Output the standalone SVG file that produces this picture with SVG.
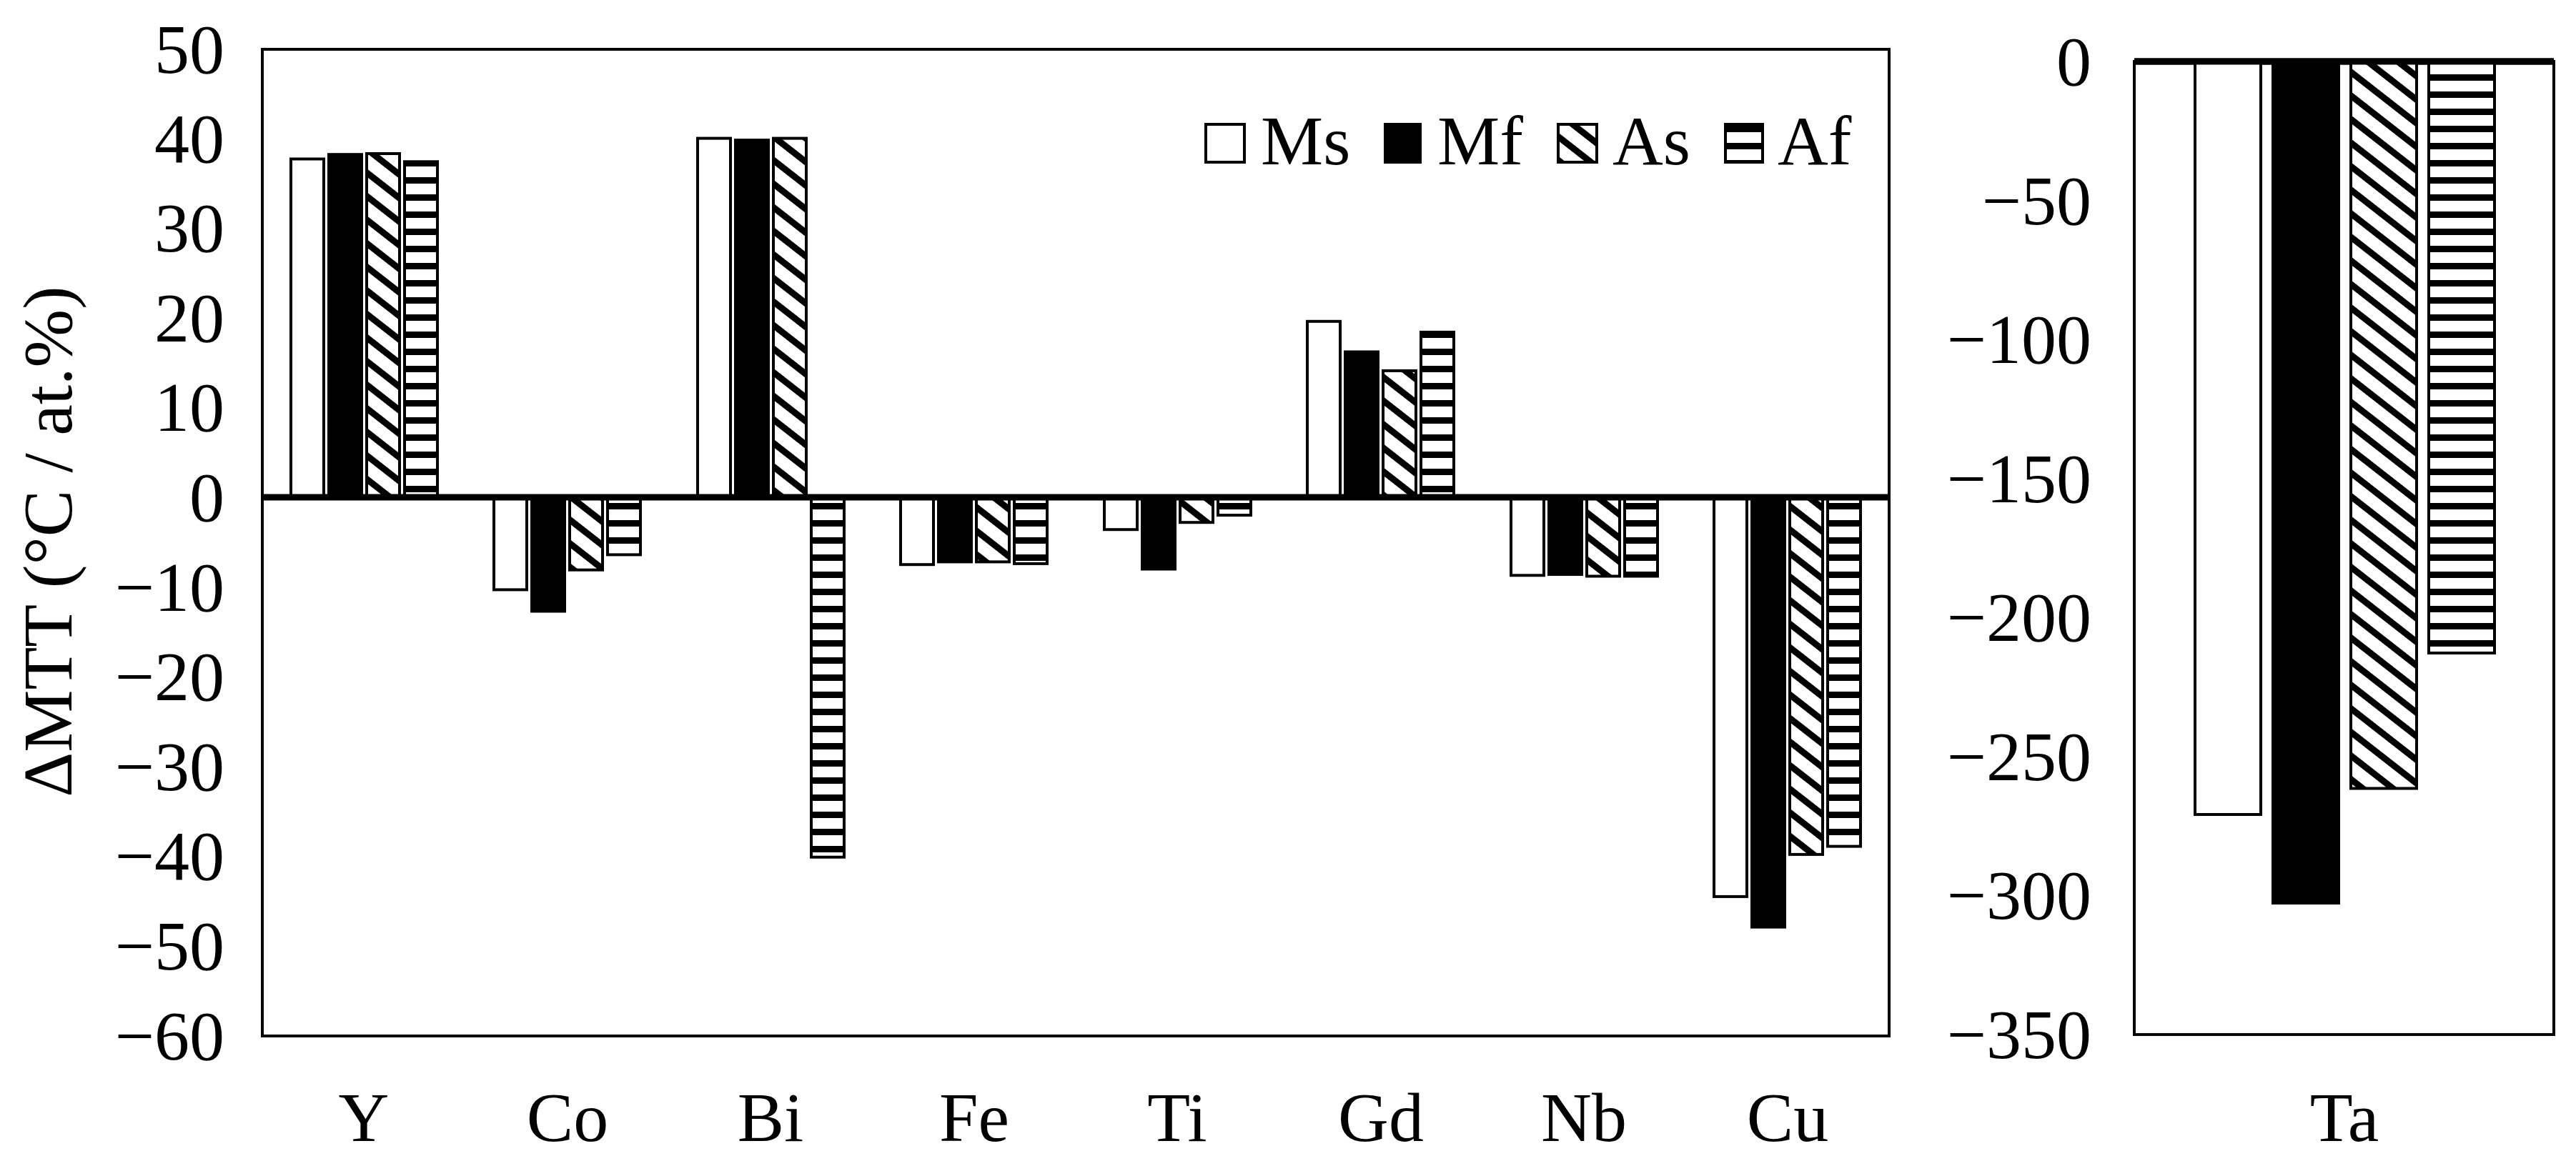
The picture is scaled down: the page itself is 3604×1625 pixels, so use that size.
<svg xmlns="http://www.w3.org/2000/svg" width="3604" height="1625" viewBox="0 0 3604 1625">
<style>
text{font-family:"Liberation Serif","Times New Roman",serif;font-size:98px;fill:#000}
.yl{text-anchor:end;dominant-baseline:central}
.xl{text-anchor:middle}
.frame{fill:none;stroke:#000;stroke-width:4}
.ms{fill:#fff;stroke:#000;stroke-width:4}
.mf{fill:#000;stroke:#000;stroke-width:4}
.as{fill:url(#diag);stroke:#000;stroke-width:4}
.af{fill:url(#horiz);stroke:#000;stroke-width:4}
.zero{stroke:#000;stroke-width:9}
</style>
<defs>
<pattern id="diag" patternUnits="userSpaceOnUse" width="26" height="26" patternTransform="rotate(38)">
<rect width="26" height="26" fill="#fff"/><rect width="26" height="9" fill="#000"/>
</pattern>
<pattern id="horiz" patternUnits="userSpaceOnUse" width="24" height="24">
<rect width="24" height="24" fill="#fff"/><rect y="8" width="24" height="9" fill="#000"/>
</pattern>
</defs>
<rect width="3604" height="1625" fill="#fff"/>
<g id="left-axis">
<rect class="frame" x="367" y="69" width="2276" height="1381"/>
<text class="yl" x="314" y="69">50</text>
<text class="yl" x="314" y="194">40</text>
<text class="yl" x="314" y="319">30</text>
<text class="yl" x="314" y="445">20</text>
<text class="yl" x="314" y="570">10</text>
<text class="yl" x="314" y="696">0</text>
<text class="yl" x="314" y="822">−10</text>
<text class="yl" x="314" y="947">−20</text>
<text class="yl" x="314" y="1073">−30</text>
<text class="yl" x="314" y="1198">−40</text>
<text class="yl" x="314" y="1324">−50</text>
<text class="yl" x="314" y="1450">−60</text>
<text x="100" y="758" text-anchor="middle" transform="rotate(-90 100 758)">ΔMTT (°C / at.%)</text>
</g>
<g id="bars-Y">
<rect class="ms" x="407" y="222.5" width="46" height="473.5"/>
<rect class="mf" x="460" y="216.2" width="46" height="479.8"/>
<rect class="as" x="513" y="215" width="46" height="481"/>
<rect class="af" x="566" y="226.3" width="46" height="469.7"/>
</g>
<g id="bars-Co">
<rect class="ms" x="691" y="696" width="46" height="129.4"/>
<rect class="mf" x="744" y="696" width="46" height="159.5"/>
<rect class="as" x="797" y="696" width="46" height="101.7"/>
<rect class="af" x="850" y="696" width="46" height="80.4"/>
</g>
<g id="bars-Bi">
<rect class="ms" x="976" y="193.6" width="46" height="502.4"/>
<rect class="mf" x="1029" y="196.1" width="46" height="499.9"/>
<rect class="as" x="1082" y="193.6" width="46" height="502.4"/>
<rect class="af" x="1135" y="696" width="46" height="503.7"/>
</g>
<g id="bars-Fe">
<rect class="ms" x="1260" y="696" width="46" height="94.2"/>
<rect class="mf" x="1313" y="696" width="46" height="90.4"/>
<rect class="as" x="1366" y="696" width="46" height="90.4"/>
<rect class="af" x="1419" y="696" width="46" height="92.9"/>
</g>
<g id="bars-Ti">
<rect class="ms" x="1545" y="696" width="46" height="45.2"/>
<rect class="mf" x="1598" y="696" width="46" height="100.5"/>
<rect class="as" x="1651" y="696" width="46" height="35.2"/>
<rect class="af" x="1704" y="696" width="46" height="25.1"/>
</g>
<g id="bars-Gd">
<rect class="ms" x="1829" y="449.8" width="46" height="246.2"/>
<rect class="mf" x="1882" y="492.5" width="46" height="203.5"/>
<rect class="as" x="1935" y="518.9" width="46" height="177.1"/>
<rect class="af" x="1988" y="464.9" width="46" height="231.1"/>
</g>
<g id="bars-Nb">
<rect class="ms" x="2114" y="696" width="46" height="109.3"/>
<rect class="mf" x="2167" y="696" width="46" height="108"/>
<rect class="as" x="2220" y="696" width="46" height="110.5"/>
<rect class="af" x="2273" y="696" width="46" height="110.5"/>
</g>
<g id="bars-Cu">
<rect class="ms" x="2398" y="696" width="46" height="558.9"/>
<rect class="mf" x="2451" y="696" width="46" height="601.6"/>
<rect class="as" x="2504" y="696" width="46" height="499.9"/>
<rect class="af" x="2557" y="696" width="46" height="488.6"/>
</g>
<g id="connectors">
<line class="zero" x1="367" y1="696" x2="2643" y2="696"/>
<line class="zero" x1="2986" y1="86" x2="3573" y2="86"/>
</g>
<g id="x-labels">
<text class="xl" x="509" y="1597">Y</text>
<text class="xl" x="794" y="1597">Co</text>
<text class="xl" x="1078" y="1597">Bi</text>
<text class="xl" x="1363" y="1597">Fe</text>
<text class="xl" x="1647" y="1597">Ti</text>
<text class="xl" x="1932" y="1597">Gd</text>
<text class="xl" x="2216" y="1597">Nb</text>
<text class="xl" x="2501" y="1597">Cu</text>
<text class="xl" x="3280" y="1597">Ta</text>
</g>
<g id="legend">
<rect class="ms" x="1687" y="174" width="54" height="53"/>
<text x="1764" y="230">Ms</text>
<rect class="mf" x="1938" y="174" width="49" height="53"/>
<text x="2011" y="230">Mf</text>
<rect class="as" x="2180" y="174" width="54" height="53"/>
<text x="2256" y="230">As</text>
<rect class="af" x="2414" y="174" width="52" height="53"/>
<text x="2487" y="230">Af</text>
</g>
<g id="right-axis">
<rect class="frame" x="2986" y="86" width="587" height="1362"/>
<text class="yl" x="2926" y="86">0</text>
<text class="yl" x="2926" y="281">−50</text>
<text class="yl" x="2926" y="475">−100</text>
<text class="yl" x="2926" y="670">−150</text>
<text class="yl" x="2926" y="864">−200</text>
<text class="yl" x="2926" y="1059">−250</text>
<text class="yl" x="2926" y="1253">−300</text>
<text class="yl" x="2926" y="1448">−350</text>
</g>
<g id="bars-Ta">
<rect class="ms" x="3071" y="86" width="92" height="1054"/>
<rect class="mf" x="3180" y="86" width="92" height="1178"/>
<rect class="as" x="3289" y="86" width="92" height="1017.5"/>
<rect class="af" x="3398" y="86" width="92" height="828"/>
</g>
<line class="zero" x1="2986" y1="86" x2="3573" y2="86"/>
</svg>
